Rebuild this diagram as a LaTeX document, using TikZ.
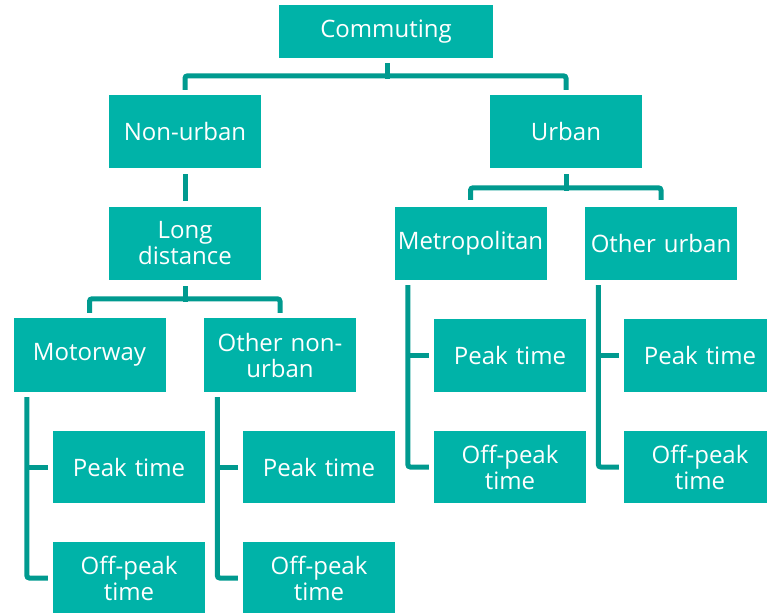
\documentclass[tikz,border=0pt]{standalone}
\usepackage{fontspec}
\setmainfont{Open Sans}
\usetikzlibrary{calc}
\definecolor{boxteal}{HTML}{00B3A8}
\definecolor{lineteal}{HTML}{009A8F}
\tikzset{
  box/.style={fill=boxteal, text=white, inner sep=0pt, align=center,
    minimum width=152pt, minimum height=73pt, text width=151pt,
    font=\fontsize{24}{26}\selectfont},
  conn/.style={draw=lineteal, line width=5pt, rounded corners=2.5pt}
}
\begin{document}
\begin{tikzpicture}[x=1pt,y=-1pt]
\useasboundingbox (0,0) rectangle (767,612);

% boxes
\node[box, minimum width=214pt, minimum height=53pt] (comm) at (386,31.5) {Commuting};
\node[box] (nonurban) at (185,131.5) {Non-urban};
\node[box] (urban) at (566,131.5) {Urban};
\node[box] (longd) at (185,243.5) {Long\\distance};
\node[box] (metro) at (470.5,243.5) {Metropolitan};
\node[box] (otherurban) at (661,243.5) {Other urban};
\node[box, minimum height=74pt] (motorway) at (89.5,355) {Motorway};
\node[box, minimum height=74pt] (othernon) at (280,355) {Other non-\\urban};
\node[box, minimum height=72pt] (mpeak) at (129,467) {Peak time};
\node[box, minimum height=72pt] (moff) at (129,578) {Off-peak\\time};
\node[box, minimum height=72pt] (opeak) at (319,467) {Peak time};
\node[box, minimum height=72pt] (ooff) at (319,578) {Off-peak\\time};
\node[box, minimum height=73pt] (metpeak) at (510,355.5) {Peak time};
\node[box, minimum height=72pt] (metoff) at (510,467) {Off-peak\\time};
\node[box, minimum height=73pt] (oupeak) at (700,355.5) {Peak time};
\node[box, minimum height=72pt] (ouoff) at (700,467) {Off-peak\\time};

% top level split
\draw[conn] ($(comm.south)+(1,5)$) -- ($(comm.south)+(1,20.5)$);
\draw[conn] ($(nonurban.north)+(0,-5)$) |- ($(urban.north)+(0,-19)$) -- ($(urban.north)+(0,-5)$);

% non-urban branch
\draw[conn] ($(nonurban.south)+(0,6)$) -- ($(longd.north)+(0,-6)$);
\draw[conn] ($(longd.south)+(0,6)$) -- ($(longd.south)+(0,21.5)$);
\draw[conn] ($(motorway.north)+(0,-5)$) |- ($(othernon.north)+(0,-19)$) -- ($(othernon.north)+(0,-5)$);

% urban branch
\draw[conn] ($(urban.south)+(0,6)$) -- ($(urban.south)+(0,22.5)$);
\draw[conn] ($(metro.north)+(0,-7)$) |- ($(otherurban.north)+(0,-19)$) -- ($(otherurban.north)+(0,-7)$);

% time-of-day branches
\foreach \up/\pk/\op in {motorway/mpeak/moff, othernon/opeak/ooff,
                         metro/metpeak/metoff, otherurban/oupeak/ouoff}{
  \coordinate (\up-top) at ($(\up.south west)+(13.5,5)$);
  \draw[conn] (\up-top) |- ($(\op.west)+(-5,0)$);
  \draw[conn] (\up-top |- \pk.west) -- ($(\pk.west)+(-5,0)$);
}
\end{tikzpicture}
\end{document}
